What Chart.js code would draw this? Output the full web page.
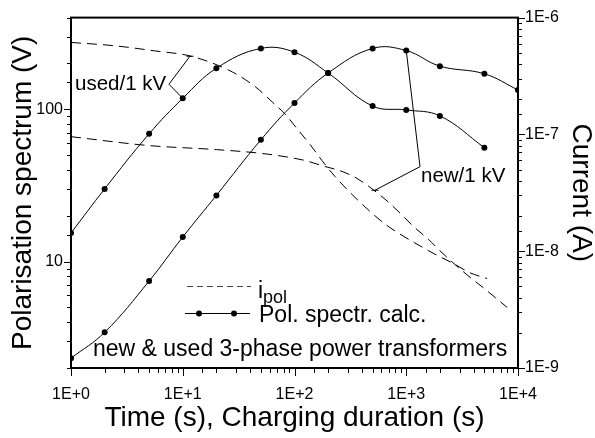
<!DOCTYPE html>
<html><head><meta charset="utf-8">
<script src="https://cdn.jsdelivr.net/npm/chart.js@4/dist/chart.umd.min.js"></script>
<style>html,body{margin:0;padding:0;background:#fff}canvas{display:block}</style>
</head><body>
<canvas id="c" width="595" height="438"></canvas>
<script>
// ---- data ----
const spectrumTime = [1, 2, 5, 10, 20, 50, 100, 200, 500, 1000, 2000, 5000, 10000];
const spectrumUsed = [15.4, 30, 69, 118, 186, 251, 237, 173, 105, 99, 90.5, 56];
const spectrumNew = [2.32, 3.43, 7.45, 14.5, 27.2, 63, 110, 173, 251, 243, 192, 171, 134];
const currentUsedTime = [1, 2.5, 5.6, 12, 28, 45, 63, 82, 107, 138, 176, 230, 370, 645, 935, 1330, 1920, 2570, 3700, 5300];
const currentUsed = [6.13e-7, 5.73e-7, 5.19e-7, 4.66e-7, 3.41e-7, 2.54e-7, 1.90e-7, 1.50e-7, 1.10e-7, 8.18e-8, 5.98e-8, 4.37e-8, 2.73e-8, 1.71e-8, 1.35e-8, 1.11e-8, 9.14e-9, 7.96e-9, 6.55e-9, 5.83e-9];
const currentNewTime = [1, 5, 20, 52, 86, 124, 180, 266, 362, 645, 880, 1150, 1570, 2000, 2620, 3570, 4860, 8000];
const currentNew = [9.56e-8, 8.02e-8, 7.41e-8, 6.86e-8, 6.40e-8, 5.98e-8, 5.37e-8, 4.82e-8, 4.20e-8, 2.79e-8, 2.12e-8, 1.64e-8, 1.27e-8, 1.01e-8, 7.96e-9, 6.18e-9, 4.89e-9, 3.30e-9];
const xTickLabels = ['1E+0', '1E+1', '1E+2', '1E+3', '1E+4'];      // decades 0..4
const leftTickLabels = ['10', '100'];                               // decades 1..2
const rightTickLabels = ['1E-9', '1E-8', '1E-7', '1E-6'];           // decades -9..-6

// annotation leaders in data coordinates (time, spectrum value)
const usedLeader = [[11.6, 223], [7.53, 146], [10, 118]];
const newLeader = [[1000, 243], [1328, 42], [525, 29.4]];

const FONT = '"Liberation Sans", Arial, sans-serif';
const pts = (xs, ys) => ys.map((v, i) => ({x: xs[i], y: v}));
const isDecade = v => Math.abs(Math.log10(v) - Math.round(Math.log10(v))) < 1e-6;

const framePlugin = {
  id: 'frame',
  afterDatasetsDraw(chart) {
    const {ctx, chartArea: a, scales} = chart;
    const X = scales.x, Y = scales.y, R = scales.yR;
    ctx.save();
    // frame
    ctx.strokeStyle = '#000';
    ctx.lineWidth = 2;
    ctx.strokeRect(a.left, a.top, a.right - a.left, a.bottom - a.top);
    // ticks
    ctx.lineWidth = 1;
    ctx.beginPath();
    X.ticks.forEach(t => {
      const p = Math.round(X.getPixelForValue(t.value)) + 0.5;
      const L = isDecade(t.value) ? 8 : 5;
      ctx.moveTo(p, a.bottom); ctx.lineTo(p, a.bottom + L);
    });
    Y.ticks.forEach(t => {
      const p = Math.round(Y.getPixelForValue(t.value)) + 0.5;
      const L = isDecade(t.value) ? 7 : 4;
      ctx.moveTo(a.left, p); ctx.lineTo(a.left - L, p);
    });
    R.ticks.forEach(t => {
      const p = Math.round(R.getPixelForValue(t.value)) + 0.5;
      const L = isDecade(t.value) ? 7 : 4;
      ctx.moveTo(a.right, p); ctx.lineTo(a.right + L, p);
    });
    ctx.stroke();

    // annotation leaders
    const toPx = ([t, v]) => [X.getPixelForValue(t), Y.getPixelForValue(v)];
    ctx.lineWidth = 1;
    [usedLeader, newLeader].forEach((ld, k) => {
      const p = ld.map(toPx);
      ctx.beginPath();
      ctx.moveTo(p[0][0], p[0][1]); ctx.lineTo(p[1][0], p[1][1]); ctx.lineTo(p[2][0], p[2][1]);
      ctx.stroke();
      const c = k === 0 ? p[0] : p[2];
      ctx.beginPath();
      ctx.moveTo(c[0] - 3.5, c[1]); ctx.lineTo(c[0] + 3.5, c[1]);
      ctx.stroke();
    });

    // texts
    ctx.fillStyle = '#000';
    ctx.textBaseline = 'alphabetic';
    ctx.textAlign = 'left';
    ctx.font = '20.5px ' + FONT;
    ctx.fillText('used/1 kV', 75, 90);
    ctx.fillText('new/1 kV', 421, 182);

    // legend
    ctx.strokeStyle = '#444';
    ctx.setLineDash([6, 4]);
    ctx.beginPath(); ctx.moveTo(187, 286.5); ctx.lineTo(251, 286.5); ctx.stroke();
    ctx.setLineDash([]);
    ctx.strokeStyle = '#000';
    ctx.beginPath(); ctx.moveTo(185, 313.5); ctx.lineTo(250, 313.5); ctx.stroke();
    [199, 234].forEach(x => { ctx.beginPath(); ctx.arc(x, 313.5, 3, 0, Math.PI * 2); ctx.fill(); });
    ctx.font = '23px ' + FONT;
    ctx.fillText('i', 258, 298);
    ctx.font = '18px ' + FONT;
    ctx.fillText('pol', 263, 303);
    ctx.font = '23px ' + FONT;
    ctx.fillText('Pol. spectr. calc.', 259, 322);
    ctx.fillText('new & used 3-phase power transformers', 93, 356);
    ctx.restore();
  }
};

const tickFont = {family: FONT, size: 16};
const titleFont = {family: FONT, size: 28, lineHeight: 1};

new Chart(document.getElementById('c'), {
  type: 'line',
  data: {
    datasets: [
      {label: 'i_pol used', data: pts(currentUsedTime, currentUsed), yAxisID: 'yR',
       borderColor: '#000', borderWidth: 1, borderDash: [10, 6], pointRadius: 0, cubicInterpolationMode: 'monotone', fill: false},
      {label: 'i_pol new', data: pts(currentNewTime, currentNew), yAxisID: 'yR',
       borderColor: '#000', borderWidth: 1, borderDash: [10, 6], pointRadius: 0, cubicInterpolationMode: 'monotone', fill: false},
      {label: 'used', data: pts(spectrumTime, spectrumUsed), yAxisID: 'y',
       borderColor: '#000', borderWidth: 1, pointRadius: 3, pointBackgroundColor: '#000', pointBorderWidth: 0, tension: 0.4, fill: false},
      {label: 'new', data: pts(spectrumTime, spectrumNew), yAxisID: 'y',
       borderColor: '#000', borderWidth: 1, pointRadius: 3, pointBackgroundColor: '#000', pointBorderWidth: 0, tension: 0.4, fill: false}
    ]
  },
  options: {
    responsive: false,
    animation: false,
    events: [],
    devicePixelRatio: 1,
    layout: {padding: {top: 15, left: 0, right: 0, bottom: 0}},
    plugins: {legend: {display: false}, tooltip: {enabled: false}},
    scales: {
      x: {
        type: 'logarithmic', position: 'bottom', min: 1, max: 10000,
        grid: {display: false, drawTicks: false}, border: {display: false},
        afterFit: s => { s.height = 70; },
        ticks: {autoSkip: false, maxRotation: 0, color: '#000', font: tickFont, padding: 17,
          callback: v => isDecade(v) ? xTickLabels[Math.round(Math.log10(v))] : ''},
        title: {display: true, text: 'Time (s), Charging duration (s)', color: '#000', font: titleFont, padding: {top: 0, bottom: 6}}
      },
      y: {
        type: 'logarithmic', position: 'left', min: 2, max: 400,
        grid: {display: false, drawTicks: false}, border: {display: false},
        afterFit: s => { s.width = 71; },
        ticks: {autoSkip: false, color: '#000', font: tickFont, padding: 8,
          callback: v => isDecade(v) ? leftTickLabels[Math.round(Math.log10(v)) - 1] : ''},
        title: {display: true, text: 'Polarisation spectrum (V)', color: '#000', font: titleFont, padding: {top: 9, bottom: 0}}
      },
      yR: {
        type: 'logarithmic', position: 'right', min: 1e-9, max: 1e-6,
        grid: {display: false, drawTicks: false}, border: {display: false},
        afterFit: s => { s.width = 77; },
        ticks: {autoSkip: false, color: '#000', font: tickFont, padding: 7,
          callback: v => isDecade(v) ? rightTickLabels[Math.round(Math.log10(v)) + 9] : ''},
        title: {display: true, text: 'Current (A)', color: '#000', font: titleFont, padding: {top: 0, bottom: 0}}
      }
    }
  },
  plugins: [framePlugin]
});
</script>
</body></html>
